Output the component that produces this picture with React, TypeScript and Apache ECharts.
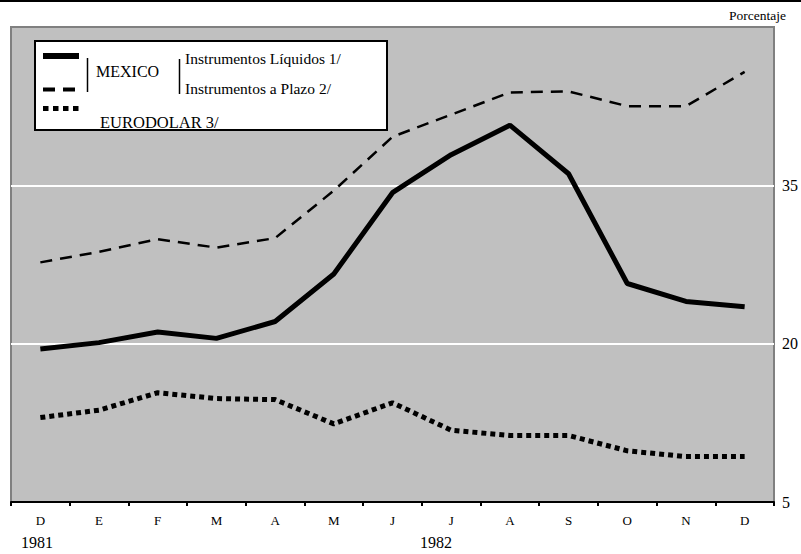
import React, { useEffect, useRef } from "react";
import * as echarts from "echarts";

const months = ["D", "E", "F", "M", "A", "M", "J", "J", "A", "S", "O", "N", "D"];
const liquidos = [19.5, 20.1, 21.1, 20.5, 22.1, 26.6, 34.3, 37.9, 40.7, 36.1, 25.7, 24.0, 23.5];
const plazo = [27.7, 28.7, 29.9, 29.1, 30.0, 34.5, 39.6, 41.7, 43.8, 43.9, 42.5, 42.5, 45.75];
const eurodolar = [13.0, 13.7, 15.35, 14.8, 14.7, 12.4, 14.4, 11.8, 11.3, 11.3, 9.85, 9.3, 9.3];
const yMin = 5;
const yMax = 50;
const yStep = 15;

const FONT = "Liberation Serif";

export default function App() {
  const ref = useRef<HTMLDivElement>(null);
  useEffect(() => {
    if (!ref.current) return;
    const chart = echarts.init(ref.current, undefined, { renderer: "svg" });
    const txt = (x: number, y: number, text: string, size = 15, align = "left") => ({
      type: "text",
      x,
      y,
      style: {
        text,
        fill: "#000",
        fontFamily: FONT,
        fontSize: size,
        align,
        verticalAlign: "middle",
      },
      z: 110,
    });
    chart.setOption({
      animation: false,
      backgroundColor: "#fff",
      textStyle: { fontFamily: FONT },
      grid: {
        left: 11,
        right: 22,
        top: 27,
        bottom: 52,
        show: true,
        backgroundColor: "#c0c0c0",
        borderColor: "#808080",
        borderWidth: 2,
      },
      xAxis: {
        type: "category",
        data: months,
        boundaryGap: true,
        axisLine: { show: true, lineStyle: { color: "#000", width: 2 } },
        axisTick: { show: true, length: 4, lineStyle: { color: "#000", width: 2 } },
        axisLabel: { color: "#000", fontFamily: FONT, fontSize: 13, margin: 12 },
        splitLine: { show: false },
        z: 5,
      },
      yAxis: {
        type: "value",
        position: "right",
        min: yMin,
        max: yMax,
        interval: yStep,
        axisLine: { show: false },
        axisTick: { show: false },
        axisLabel: {
          color: "#000",
          fontFamily: FONT,
          fontSize: 16,
          margin: 8,
          padding: [12, 0, 0, 0],
          formatter: (v: number) => (v === yMax ? "" : String(v)),
        },
        splitLine: { show: true, lineStyle: { color: ["transparent", "#fff", "#fff", "#808080"], width: 2 } },
      },
      series: [
        {
          name: "Instrumentos Líquidos 1/",
          type: "line",
          data: liquidos,
          symbol: "none",
          lineStyle: { color: "#000", width: 5, type: "solid" },
          z: 3,
        },
        {
          name: "Instrumentos a Plazo 2/",
          type: "line",
          data: plazo,
          symbol: "none",
          lineStyle: { color: "#000", width: 2.5, type: [12, 8] },
          z: 3,
        },
        {
          name: "EURODOLAR 3/",
          type: "line",
          data: eurodolar,
          symbol: "none",
          lineStyle: { color: "#000", width: 5, type: [5, 4], cap: "butt" },
          z: 3,
        },
      ],
      graphic: [
        { type: "rect", shape: { x: 0, y: 0, width: 801, height: 2 }, style: { fill: "#000" }, z: 100 },
        txt(786, 15, "Porcentaje", 13.5, "right"),
        {
          type: "rect",
          shape: { x: 35, y: 41, width: 352, height: 89 },
          style: { fill: "#fff", stroke: "#000", lineWidth: 2 },
          z: 100,
        },
        { type: "line", shape: { x1: 43, y1: 56, x2: 79, y2: 56 }, style: { stroke: "#000", lineWidth: 6 }, z: 110 },
        {
          type: "line",
          shape: { x1: 43, y1: 89.5, x2: 79, y2: 89.5 },
          style: { stroke: "#000", lineWidth: 4, lineDash: [12, 8] },
          z: 110,
        },
        {
          type: "line",
          shape: { x1: 43, y1: 108.5, x2: 79, y2: 108.5 },
          style: { stroke: "#000", lineWidth: 5, lineDash: [5.5, 4.5] },
          z: 110,
        },
        { type: "line", shape: { x1: 87.5, y1: 58, x2: 87.5, y2: 92 }, style: { stroke: "#000", lineWidth: 1.5 }, z: 110 },
        { type: "line", shape: { x1: 179.5, y1: 59, x2: 179.5, y2: 94 }, style: { stroke: "#000", lineWidth: 1.5 }, z: 110 },
        txt(96, 71, "MEXICO", 16),
        txt(185, 58, "Instrumentos Líquidos 1/", 15.5),
        txt(185, 88, "Instrumentos a Plazo 2/", 15.5),
        txt(100, 122, "EURODOLAR 3/", 16.5),
        txt(37, 542, "1981", 16, "center"),
        txt(436, 542, "1982", 16, "center"),
      ],
    });
    return () => chart.dispose();
  }, []);
  return <div ref={ref} style={{ position: "absolute", left: 0, top: 0, width: 801, height: 554 }} />;
}
